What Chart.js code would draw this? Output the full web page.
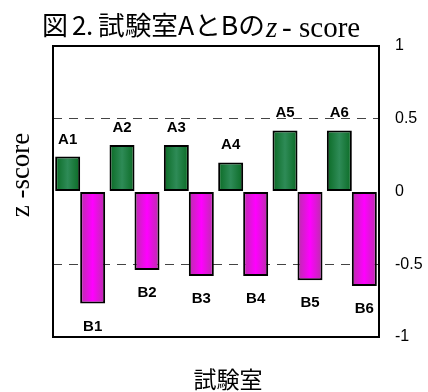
<!DOCTYPE html>
<html>
<head>
<meta charset="utf-8">
<script src="https://cdn.jsdelivr.net/npm/chart.js@4.4.1/dist/chart.umd.min.js"></script>
<style>
  html, body { margin: 0; padding: 0; background: #fff; }
  #wrap { width: 428px; height: 392px; }
</style>
</head>
<body>
<div id="wrap"><canvas id="zChart" width="428" height="392"></canvas></div>
<script>
// --- data ---
const labsA = ["A1", "A2", "A3", "A4", "A5", "A6"];
const labsB = ["B1", "B2", "B3", "B4", "B5", "B6"];
const scoreA = [0.24, 0.32, 0.32, 0.20, 0.42, 0.42];
const scoreB = [-0.77, -0.54, -0.58, -0.58, -0.61, -0.65];
const yTicks = [-1, -0.5, 0, 0.5, 1];
const yTickLabels = ["-1", "-0.5", "0", "0.5", "1"];

const CAT_PCT = 0.92;

// horizontal gradient per bar, like the Excel fill
function barFill(edge, mid) {
  return (ctx) => {
    const chart = ctx.chart;
    const xs = chart.scales.x;
    if (ctx.type !== "data" || !xs) return mid;
    const n = chart.data.labels.length;
    const catW = xs.width / n;
    const groupW = catW * CAT_PCT;
    const barW = groupW / 2;
    const cx = xs.getPixelForValue(ctx.dataIndex);
    const left = cx - groupW / 2 + ctx.datasetIndex * barW;
    if (!isFinite(left)) return mid;
    const g = chart.ctx.createLinearGradient(left, 0, left + barW, 0);
    g.addColorStop(0, edge);
    g.addColorStop(0.5, mid);
    g.addColorStop(1, edge);
    return g;
  };
}

// A/B labels above and below the bars
const barLabels = {
  id: "barLabels",
  afterDatasetsDraw(chart) {
    const c = chart.ctx;
    c.save();
    c.font = "bold 15px 'Liberation Sans', Arial, sans-serif";
    c.fillStyle = "#000";
    c.textAlign = "center";
    c.textBaseline = "alphabetic";
    chart.getDatasetMeta(0).data.forEach((el, i) => c.fillText(labsA[i], el.x, el.y - 13));
    chart.getDatasetMeta(1).data.forEach((el, i) => c.fillText(labsB[i], el.x, el.y + 27));
    c.restore();
  },
};

// squeeze/stretch a run of text into a given width
function fitText(c, txt, x, y, w) {
  const m = c.measureText(txt).width;
  c.save();
  c.translate(x, y);
  c.scale(w / m, 1);
  c.fillText(txt, 0, 0);
  c.restore();
}

// frame + titles
const frameAndTitles = {
  id: "frameAndTitles",
  afterDraw(chart) {
    const c = chart.ctx;
    const a = chart.chartArea;
    c.save();
    c.strokeStyle = "#000";
    c.lineWidth = 2;
    c.strokeRect(a.left, a.top, a.right - a.left, a.bottom - a.top);

    c.fillStyle = "#000";
    c.textBaseline = "alphabetic";
    c.textAlign = "left";
    c.font = "26px 'Noto Sans CJK JP', sans-serif";
    c.fillText("図", 42, 35);
    c.fillText("2", 72, 35);
    c.fillText(".", 86, 35);
    fitText(c, "試験室AとBの", 98, 35, 167);
    c.font = "italic 29px 'Liberation Serif', 'Times New Roman', serif";
    c.fillText("z", 266, 37);
    c.font = "29px 'Liberation Serif', 'Times New Roman', serif";
    c.fillText("-", 282, 37);
    c.fillText("score", 299, 37);

    // left axis title
    c.save();
    c.translate(22, 175);
    c.rotate(-Math.PI / 2);
    c.textAlign = "center";
    c.textBaseline = "middle";
    c.font = "27px 'Liberation Serif', 'Times New Roman', serif";
    c.fillText("z -score", 0, 0);
    c.restore();

    // bottom title
    c.textAlign = "center";
    c.textBaseline = "middle";
    c.font = "23px 'Noto Sans CJK JP', sans-serif";
    c.fillText("試験室", 228, 379);
    c.restore();
  },
};

new Chart(document.getElementById("zChart"), {
  type: "bar",
  data: {
    labels: labsA.map((l, i) => i + 1),
    datasets: [
      {
        label: "A",
        data: scoreA,
        backgroundColor: barFill("#0a6a24", "#2e8b57"),
        borderColor: "#000",
        borderWidth: 2,
        borderSkipped: false,
      },
      {
        label: "B",
        data: scoreB,
        backgroundColor: barFill("#b830a8", "#ff00ff"),
        borderColor: "#000",
        borderWidth: 2,
        borderSkipped: false,
      },
    ],
  },
  options: {
    responsive: false,
    devicePixelRatio: 1,
    animation: false,
    layout: { padding: { left: 53, top: 46, bottom: 55, right: 0 } },
    categoryPercentage: CAT_PCT,
    barPercentage: 1.0,
    plugins: {
      legend: { display: false },
      tooltip: { enabled: false },
      title: { display: false },
    },
    scales: {
      x: { display: false },
      y: {
        position: "right",
        min: -1,
        max: 1,
        afterFit: (s) => { s.width = 49; },
        afterBuildTicks: (s) => { s.ticks = yTicks.map((v) => ({ value: v })); },
        ticks: {
          padding: 16,
          color: "#000",
          font: { family: "'Liberation Sans', Arial, sans-serif", size: 16 },
          callback: (v) => yTickLabels[yTicks.indexOf(v)],
        },
        grid: {
          drawTicks: false,
          lineWidth: 1,
          color: (ctx) => (ctx.tick && Math.abs(ctx.tick.value) === 0.5 ? "#444" : "rgba(0,0,0,0)"),
        },
        border: { display: false, dash: [9, 7] },
      },
    },
  },
  plugins: [barLabels, frameAndTitles],
});
</script>
</body>
</html>
